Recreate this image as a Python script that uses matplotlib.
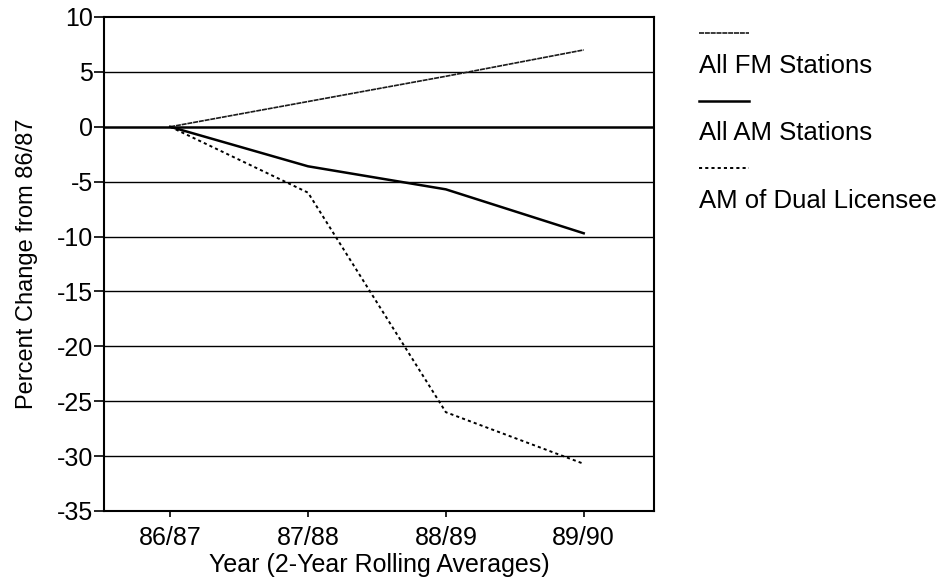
import matplotlib
matplotlib.use("Agg")
import matplotlib.pyplot as plt
from matplotlib.lines import Line2D

plt.rcParams['font.family'] = ['Liberation Sans', 'DejaVu Sans']
plt.rcParams['axes.unicode_minus'] = False

years = ['86/87', '87/88', '88/89', '89/90']
fm_all = [0, 2.3, 4.6, 7.0]
am_all = [0, -3.6, -5.7, -9.7]
am_dual = [0, -6.0, -26.0, -30.7]

labels = ['All FM Stations', 'All AM Stations', 'AM of Dual Licensee']
styles = [dict(color='#1a1a1a', lw=1.2, ls=(0, (3, 0.5))),
          dict(color='black', lw=1.8, ls='-'),
          dict(color='black', lw=1.4, ls=(0, (1.6, 1.6)))]

fig = plt.figure(figsize=(9.41, 5.82), dpi=100)
ax = fig.add_axes([104 / 941, 1 - 511 / 582, 550 / 941, 494 / 582])

# horizontal grid lines, zero line heavier
for v in range(-30, 10, 5):
    ax.axhline(v, color='black', lw=1.8 if v == 0 else 1.0, zorder=1)

x = list(range(len(years)))
for series, st in zip([fm_all, am_all, am_dual], styles):
    ax.plot(x, series, zorder=3, **st)

ax.set_xlim(-0.48, 3.51)
ax.set_ylim(-35, 10)
ax.set_yticks(range(-35, 11, 5))
ax.set_xticks(x)
ax.set_xticklabels(years)
ax.tick_params(labelsize=18, width=1.2, direction='out')
ax.tick_params(axis='y', length=7, pad=1)
ax.tick_params(axis='x', length=4, pad=7)
for s in ax.spines.values():
    s.set_linewidth(1.5)
ax.set_xlabel('Year (2-Year Rolling Averages)', fontsize=18, labelpad=2)
ax.set_ylabel('Percent Change from 86/87', fontsize=17, labelpad=13)

# legend: short line above each label
x0, x1 = 699 / 941, 749 / 941
for i, (lab, st) in enumerate(zip(labels, styles)):
    yl = 1 - (33 + 67.5 * i) / 582
    yt = 1 - (66 + 67.5 * i) / 582
    fig.add_artist(Line2D([x0, x1], [yl, yl], transform=fig.transFigure, **st))
    fig.text(x0, yt, lab, fontsize=18.5, va='center', ha='left')

fig.savefig('out.png', dpi=100)
